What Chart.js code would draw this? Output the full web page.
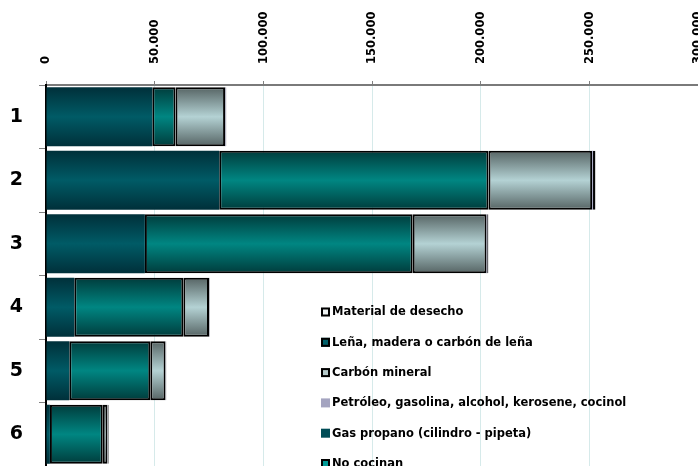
<!DOCTYPE html>
<html>
<head>
<meta charset="utf-8">
<script src="https://cdn.jsdelivr.net/npm/chart.js@4.4.1/dist/chart.umd.min.js"></script>
<style>
  body { margin: 0; background: #fff; overflow: hidden; }
  #wrap { width: 698px; height: 466px; overflow: hidden; }
</style>
</head>
<body>
<div id="wrap"><canvas id="myChart" width="698" height="466"></canvas></div>
<script>
const categories = ['1', '2', '3', '4', '5', '6'];
const xTickLabels = ['0', '50.000', '100.000', '150.000', '200.000', '250.000', '300.000'];

const gasPropano = [48900, 79700, 45500, 13000, 10700, 1800];
const noCocinan = [10700, 123900, 123200, 50200, 37300, 24300];
const carbonMineral = [22800, 47700, 34000, 11800, 7000, 2200];
const petroleo = [200, 400, 300, 100, 100, 100];
const lena = [300, 900, 500, 200, 200, 400];
const materialDesecho = [100, 200, 100, 100, 100, 100];

const FONT = '"DejaVu Sans", Arial, sans-serif';

// vertical shading like the original bars
const barFill = (edge, mid) => (c) => {
    const chart = c.chart;
    const y = chart.scales.y;
    if (!chart.chartArea || !y || c.dataIndex === undefined) return mid;
    const band = (y.bottom - y.top) / categories.length;
    const h = band * 0.93;
    const cy = y.getPixelForValue(c.dataIndex);
    if (!isFinite(cy)) return mid;
    const g = chart.ctx.createLinearGradient(0, cy - h / 2, 0, cy + h / 2);
    g.addColorStop(0, edge);
    g.addColorStop(0.5, mid);
    g.addColorStop(1, edge);
    return g;
};

const datasets = [
    { label: 'Gas propano (cilindro - pipeta)', data: gasPropano, backgroundColor: barFill('#00303a', '#005b66'), borderWidth: 0, swatch: '#004c56', boxed: false },
    { label: 'No cocinan', data: noCocinan, backgroundColor: barFill('#003c3c', '#008682'), borderColor: '#000', borderWidth: 2, borderSkipped: false, swatch: '#009a96', boxed: true },
    { label: 'Carbón mineral', data: carbonMineral, backgroundColor: barFill('#566464', '#b4d2d4'), borderColor: '#000', borderWidth: 2, borderSkipped: false, swatch: '#b4c8c8', boxed: true },
    { label: 'Petróleo, gasolina, alcohol, kerosene, cocinol', data: petroleo, backgroundColor: '#a0a0c0', borderWidth: 0, swatch: '#a4a4c0', boxed: false },
    { label: 'Leña, madera o carbón de leña', data: lena, backgroundColor: barFill('#00303a', '#005b66'), borderColor: '#000', borderWidth: 2, borderSkipped: false, swatch: '#00606a', boxed: true },
    { label: 'Material de desecho', data: materialDesecho, backgroundColor: '#e8eeee', borderColor: '#000', borderWidth: 2, borderSkipped: false, swatch: '#eef2f2', boxed: true }
];

// order of the entries in the legend box, top to bottom
const legendOrder = [5, 4, 2, 3, 0, 1];

const legendBox = {
    id: 'legendBox',
    afterDatasetsDraw(chart) {
        const ctx = chart.ctx;
        ctx.save();
        ctx.font = 'bold 11.5px ' + FONT;
        ctx.textBaseline = 'middle';
        ctx.textAlign = 'left';
        legendOrder.forEach((di, i) => {
            const ds = chart.data.datasets[di];
            const y = 312 + i * 30.3;
            ctx.fillStyle = ds.swatch;
            ctx.fillRect(321, y - 4.5, 9, 9);
            if (ds.boxed) {
                ctx.strokeStyle = '#000';
                ctx.lineWidth = 2;
                ctx.strokeRect(322, y - 3.5, 7, 7);
            }
            ctx.fillStyle = '#000';
            ctx.fillText(ds.label, 332, y + 0.5);
        });
        ctx.restore();
    }
};

const ctx = document.getElementById('myChart').getContext('2d');
const myChart = new Chart(ctx, {
    type: 'bar',
    data: { labels: categories, datasets: datasets },
    options: {
        indexAxis: 'y',
        responsive: false,
        animation: false,
        events: [],
        layout: { padding: 0 },
        datasets: { bar: { categoryPercentage: 1, barPercentage: 0.93 } },
        plugins: { legend: { display: false }, tooltip: { enabled: false } },
        scales: {
            x: {
                position: 'top',
                stacked: true,
                min: 0,
                max: 300000,
                afterBuildTicks: (s) => { s.ticks = xTickLabels.map((t, i) => ({ value: i * 50000 })); },
                afterFit: (s) => { s.height = 85; s.paddingLeft = 0; s.paddingRight = 0; },
                grid: { color: '#d6eaea', lineWidth: 1, tickLength: 4, tickColor: '#808080', drawTicks: true },
                border: { color: '#7a7a7a', width: 2 },
                ticks: {
                    autoSkip: false,
                    minRotation: 90,
                    maxRotation: 90,
                    padding: 17,
                    labelOffset: 14,
                    color: '#000',
                    font: { family: FONT, size: 11.5, weight: 'bold' },
                    callback: (v) => xTickLabels[Math.round(v / 50000)]
                }
            },
            y: {
                stacked: true,
                afterFit: (s) => { s.width = 46; s.paddingTop = 0; s.paddingBottom = 0; },
                grid: { offset: true, drawOnChartArea: false, tickLength: 7, tickColor: '#808080' },
                border: { color: '#000', width: 2 },
                ticks: {
                    padding: 16,
                    color: '#000',
                    font: { family: FONT, size: 19, weight: 'bold' }
                }
            }
        }
    },
    plugins: [legendBox]
});
</script>
</body>
</html>
